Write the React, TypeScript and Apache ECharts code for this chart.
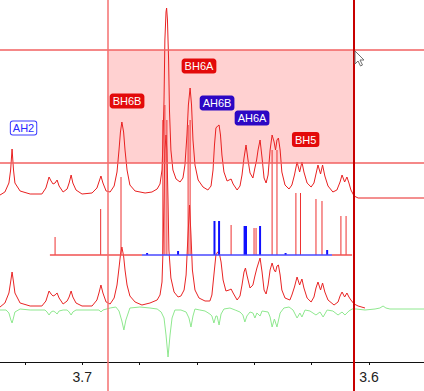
import React, { useEffect, useRef } from "react";
import * as echarts from "echarts";

// chemical shift axis (ppm), labelled ticks
const labelledTicks = [3.7, 3.6];

// upper trace: experimental spectrum [ppm, intensity]
const upperSpectrum: [number, number][] = [
  [3.7287, 167], [3.7270, 170], [3.7256, 179], [3.7250, 192], [3.7245, 213], [3.7240, 192], [3.7235, 179],
  [3.7217, 171], [3.7182, 168], [3.7141, 168], [3.7127, 174], [3.7116, 185], [3.7109, 181], [3.7102, 178],
  [3.7095, 179], [3.7088, 182], [3.7081, 176], [3.7067, 170], [3.7053, 173], [3.7046, 179], [3.7039, 187],
  [3.7033, 179], [3.7022, 172], [3.7001, 168], [3.6966, 169], [3.6949, 174], [3.6942, 180], [3.6935, 186],
  [3.6928, 179], [3.6917, 171], [3.6903, 170], [3.6889, 176], [3.6879, 190], [3.6872, 212], [3.6867, 230],
  [3.6862, 240], [3.6856, 230], [3.6851, 212], [3.6844, 192], [3.6834, 177], [3.6816, 171], [3.6781, 169],
  [3.6757, 170], [3.6739, 173], [3.6729, 178], [3.6722, 192], [3.6719, 217], [3.6715, 262], [3.6712, 322],
  [3.6708, 350], [3.6706, 354], [3.6703, 342], [3.6699, 302], [3.6696, 252], [3.6691, 212], [3.6684, 192],
  [3.6673, 183], [3.6659, 180], [3.6649, 184], [3.6642, 197], [3.6635, 227], [3.6630, 257], [3.6624, 274],
  [3.6619, 257], [3.6614, 222], [3.6607, 197], [3.6596, 182], [3.6579, 175], [3.6562, 172], [3.6551, 176],
  [3.6544, 192], [3.6539, 217], [3.6534, 234], [3.6528, 236], [3.6523, 237], [3.6518, 227], [3.6513, 207],
  [3.6506, 190], [3.6495, 181], [3.6488, 182], [3.6481, 183], [3.6474, 178], [3.6460, 172], [3.6450, 176],
  [3.6443, 187], [3.6436, 204], [3.6429, 217], [3.6422, 202], [3.6415, 189], [3.6405, 184], [3.6398, 194],
  [3.6392, 202], [3.6387, 212], [3.6380, 222], [3.6373, 204], [3.6366, 184], [3.6359, 179], [3.6352, 187],
  [3.6345, 212], [3.6338, 227], [3.6331, 220], [3.6326, 212], [3.6321, 222], [3.6316, 224], [3.6310, 212],
  [3.6304, 190], [3.6293, 177], [3.6279, 173], [3.6269, 177], [3.6260, 187], [3.6251, 200], [3.6242, 190],
  [3.6234, 200], [3.6227, 190], [3.6216, 179], [3.6202, 175], [3.6192, 179], [3.6185, 188], [3.6178, 197],
  [3.6169, 188], [3.6162, 197], [3.6154, 186], [3.6143, 176], [3.6126, 170], [3.6112, 172], [3.6101, 180],
  [3.6094, 187], [3.6085, 180], [3.6077, 185], [3.6070, 179], [3.6063, 172], [3.6052, 166], [3.6038, 164],
  [3.5808, 164],
];

// lower trace: simulated spectrum [ppm, intensity]
const lowerSpectrum: [number, number][] = [
  [3.7287, 55], [3.7270, 59], [3.7256, 69], [3.7250, 80], [3.7245, 90], [3.7240, 80], [3.7235, 69],
  [3.7217, 59], [3.7182, 56], [3.7141, 56], [3.7127, 61], [3.7116, 71], [3.7109, 68], [3.7102, 66],
  [3.7095, 67], [3.7088, 69], [3.7081, 64], [3.7067, 58], [3.7053, 61], [3.7046, 65], [3.7039, 71],
  [3.7033, 65], [3.7022, 59], [3.7001, 56], [3.6966, 56], [3.6949, 62], [3.6942, 69], [3.6935, 77],
  [3.6928, 69], [3.6917, 60], [3.6903, 58], [3.6889, 64], [3.6879, 77], [3.6872, 94], [3.6867, 107],
  [3.6862, 115], [3.6856, 106], [3.6851, 92], [3.6844, 77], [3.6834, 66], [3.6816, 60], [3.6792, 57],
  [3.6764, 59], [3.6739, 62], [3.6729, 67], [3.6722, 80], [3.6719, 107], [3.6715, 162], [3.6712, 212],
  [3.6708, 227], [3.6705, 212], [3.6701, 162], [3.6698, 112], [3.6691, 84], [3.6680, 70], [3.6666, 65],
  [3.6656, 66], [3.6645, 72], [3.6638, 87], [3.6633, 117], [3.6626, 157], [3.6621, 127], [3.6616, 92],
  [3.6607, 72], [3.6593, 64], [3.6572, 61], [3.6555, 61], [3.6548, 67], [3.6541, 87], [3.6534, 107],
  [3.6528, 110], [3.6523, 110], [3.6516, 100], [3.6509, 82], [3.6499, 71], [3.6488, 72], [3.6481, 73],
  [3.6474, 69], [3.6460, 62], [3.6450, 66], [3.6443, 77], [3.6436, 90], [3.6431, 94], [3.6426, 87],
  [3.6415, 74], [3.6405, 77], [3.6398, 86], [3.6391, 94], [3.6380, 104], [3.6373, 90], [3.6366, 72],
  [3.6359, 68], [3.6352, 77], [3.6345, 92], [3.6338, 99], [3.6331, 92], [3.6326, 90], [3.6321, 96],
  [3.6316, 97], [3.6310, 87], [3.6304, 72], [3.6293, 64], [3.6276, 62], [3.6269, 67], [3.6260, 75],
  [3.6251, 85], [3.6242, 77], [3.6234, 83], [3.6227, 74], [3.6216, 64], [3.6202, 60], [3.6192, 65],
  [3.6185, 74], [3.6178, 80], [3.6169, 72], [3.6162, 79], [3.6154, 70], [3.6143, 62], [3.6122, 57],
  [3.6108, 60], [3.6101, 66], [3.6094, 70], [3.6085, 65], [3.6077, 69], [3.6070, 65], [3.6063, 62],
  [3.6052, 58], [3.6038, 56], [3.6014, 54],
];

// difference trace [ppm, intensity]
const residualSpectrum: [number, number][] = [
  [3.7287, 52], [3.7266, 52], [3.7256, 49], [3.7249, 42], [3.7245, 39], [3.7242, 42], [3.7235, 50],
  [3.7217, 53], [3.7182, 52], [3.7130, 52], [3.7123, 50], [3.7116, 47], [3.7109, 50], [3.7102, 51],
  [3.7095, 50], [3.7088, 48], [3.7081, 51], [3.7067, 52], [3.7053, 52], [3.7046, 50], [3.7039, 47],
  [3.7033, 50], [3.7022, 52], [3.6973, 52], [3.6942, 52], [3.6935, 50], [3.6928, 52], [3.6903, 54],
  [3.6883, 55], [3.6872, 51], [3.6862, 41], [3.6855, 32], [3.6848, 42], [3.6834, 54], [3.6799, 55],
  [3.6764, 54], [3.6739, 53], [3.6725, 50], [3.6715, 44], [3.6708, 27], [3.6701, 5], [3.6694, 27],
  [3.6687, 44], [3.6677, 52], [3.6656, 52], [3.6638, 50], [3.6628, 44], [3.6621, 35], [3.6614, 46],
  [3.6607, 53], [3.6590, 52], [3.6572, 51], [3.6555, 48], [3.6548, 46], [3.6541, 39], [3.6534, 46],
  [3.6530, 46], [3.6523, 37], [3.6516, 48], [3.6506, 53], [3.6485, 54], [3.6467, 52], [3.6450, 50],
  [3.6440, 47], [3.6433, 40], [3.6426, 46], [3.6415, 50], [3.6405, 49], [3.6398, 44], [3.6391, 49],
  [3.6380, 46], [3.6373, 51], [3.6352, 50], [3.6345, 45], [3.6338, 35], [3.6330, 43], [3.6321, 35],
  [3.6310, 49], [3.6297, 54], [3.6279, 55], [3.6265, 52], [3.6251, 44], [3.6241, 49], [3.6234, 45],
  [3.6223, 52], [3.6206, 51], [3.6185, 47], [3.6171, 50], [3.6160, 45], [3.6146, 52], [3.6126, 51],
  [3.6108, 47], [3.6094, 50], [3.6084, 47], [3.6070, 51], [3.6059, 53], [3.6045, 53], [3.6014, 52],
  [3.5979, 53], [3.5962, 54], [3.5951, 56], [3.5941, 54], [3.5927, 53], [3.5808, 53],
];

// stick spectrum
const stickBase = 107;
const redStickPpm = [3.7095, 3.6936, 3.6865, 3.6719, 3.6712, 3.6705, 3.6631, 3.6624, 3.6481, 3.6401, 3.6394,
  3.6338, 3.6321, 3.6255, 3.6239, 3.6185, 3.6164, 3.6098, 3.6080];
const redStickHeight = [125, 153, 185, 242, 257, 242, 237, 242, 137, 134, 134, 212, 212, 169, 169, 163, 161, 146, 146];
const blueStickPpm = [3.6774, 3.6666, 3.6539, 3.6523, 3.6434, 3.6429, 3.6380, 3.6291, 3.6146];
const blueStickHeight = [109, 111, 141, 141, 136, 136, 136, 109, 112];
const redBaseLeft = [3.7113, 3.6792];
const blueBase = [3.6792, 3.6129];
const redBaseRight = [3.6129, 3.6059];

// selection cursors and region
const cursorPpm = [3.6913, 3.6052];
const cursorLevel = [199, 312];

// assignment labels
const labelNames = ["AH2", "BH6B", "BH6A", "AH6B", "AH6A", "BH5"];
const labelPpm = [3.7205, 3.6844, 3.6593, 3.6530, 3.6408, 3.6221];
const labelHeight = [234, 261, 296, 259, 244, 222.5];
const labelKind = ["free", "B", "B", "A", "A", "B"];

const kindStyle: Record<string, { bg: string; fg: string; border: string }> = {
  free: { bg: "#ffffff", fg: "#2a2aff", border: "#3a3aff" },
  A: { bg: "#2c08c4", fg: "#ffffff", border: "#2c08c4" },
  B: { bg: "#e30a0a", fg: "#ffffff", border: "#e30a0a" },
};

const vCursorStyles = [
  { color: "#f47070", width: 1.5, type: "solid" },
  { color: "#c80000", width: 2, type: "solid" },
];

function stickSeries(ppm: number[], height: number[], color: string, width: number) {
  return {
    type: "custom",
    z: 4,
    silent: true,
    data: ppm.map((p, i) => [p, height[i]]),
    encode: { x: 0, y: 1 },
    renderItem: (_params: any, api: any) => {
      const x = api.value(0);
      const h = api.value(1);
      const a = api.coord([x, stickBase]);
      const b = api.coord([x, h]);
      return {
        type: "line",
        shape: { x1: a[0], y1: a[1], x2: b[0], y2: b[1] },
        style: { stroke: color, lineWidth: width },
      };
    },
  };
}

function baseSeries(range: number[], color: string) {
  return {
    type: "line",
    z: 4,
    silent: true,
    symbol: "none",
    data: [[range[0], stickBase], [range[1], stickBase]],
    lineStyle: { color, width: 1.5 },
  };
}

export default function App() {
  const ref = useRef<HTMLDivElement>(null);
  useEffect(() => {
    document.body.style.margin = "0";
    const chart = echarts.init(ref.current!, undefined, { renderer: "svg" });
    const xCommon = {
      type: "value",
      inverse: true,
      min: 3.58,
      max: 3.74,
      interval: 0.02,
      splitLine: { show: false },
    };
    const option: any = {
      animation: false,
      backgroundColor: "#ffffff",
      grid: [
        { left: -32.37, width: 458.72, top: 0, height: 362, containLabel: false, outerBoundsMode: "none" },
        { left: -32.37, width: 458.72, top: 362, height: 29, containLabel: false, outerBoundsMode: "none" },
      ],
      xAxis: [
        {
          ...xCommon,
          gridIndex: 0,
          axisLine: { show: true, lineStyle: { color: "#111", width: 1 } },
          axisTick: { show: true, length: 3, lineStyle: { color: "#111" } },
          axisLabel: {
            margin: 8,
            fontSize: 14,
            fontFamily: "Liberation Sans",
            color: "#222",
            formatter: (v: number) => {
              const hit = labelledTicks.find((t) => Math.abs(t - v) < 1e-6);
              return hit !== undefined ? hit.toFixed(1) : "";
            },
          },
        },
        { ...xCommon, gridIndex: 1, show: false },
      ],
      yAxis: [
        { type: "value", min: 0, max: 362, show: false, gridIndex: 0 },
        { type: "value", min: 0, max: 1, show: false, gridIndex: 1 },
      ],
      graphic: [
        {
          type: "polygon",
          z: 100,
          shape: { points: [[355, 51], [355, 64], [358, 61], [360.5, 66], [362.5, 65], [360, 60], [364, 60]] },
          style: { fill: "#ffffff", stroke: "#707070", lineWidth: 1 },
        },
      ],
      series: [
        {
          type: "line",
          z: 1,
          data: [],
          silent: true,
          markArea: {
            silent: true,
            itemStyle: { color: "rgba(255,40,40,0.21)" },
            data: [[{ xAxis: cursorPpm[0], yAxis: cursorLevel[0] }, { xAxis: cursorPpm[1], yAxis: cursorLevel[1] }]],
          },
        },
        {
          type: "line",
          name: "residual",
          z: 3,
          symbol: "none",
          silent: true,
          data: residualSpectrum,
          lineStyle: { color: "#8fe88f", width: 1 },
        },
        {
          type: "line",
          name: "lower",
          z: 3,
          symbol: "none",
          silent: true,
          data: lowerSpectrum,
          lineStyle: { color: "#e82424", width: 1 },
        },
        {
          type: "line",
          name: "upper",
          z: 3,
          symbol: "none",
          silent: true,
          data: upperSpectrum,
          lineStyle: { color: "#e82020", width: 1 },
        },
        baseSeries(redBaseLeft, "#f05050"),
        baseSeries(blueBase, "#4848ff"),
        baseSeries(redBaseRight, "#f05050"),
        stickSeries(redStickPpm, redStickHeight, "#ee3030", 1),
        stickSeries(blueStickPpm, blueStickHeight, "#1010ff", 2),
        {
          type: "line",
          z: 6,
          data: [],
          silent: true,
          markLine: {
            silent: true,
            symbol: "none",
            precision: 4,
            label: { show: false },
            data: [
              { yAxis: cursorLevel[0], lineStyle: { color: "#f26060", width: 1.5, type: "solid" } },
              { yAxis: cursorLevel[1], lineStyle: { color: "#f26060", width: 1.5, type: "solid" } },
              { xAxis: cursorPpm[0], lineStyle: vCursorStyles[0] },
              { xAxis: cursorPpm[1], lineStyle: vCursorStyles[1] },
            ],
          },
        },
        {
          type: "line",
          z: 6,
          xAxisIndex: 1,
          yAxisIndex: 1,
          data: [],
          silent: true,
          markLine: {
            silent: true,
            symbol: "none",
            precision: 4,
            label: { show: false },
            data: [
              { xAxis: cursorPpm[0], lineStyle: vCursorStyles[0] },
              { xAxis: cursorPpm[1], lineStyle: vCursorStyles[1] },
            ],
          },
        },
        {
          type: "custom",
          z: 10,
          silent: true,
          data: labelNames.map((n, i) => [labelPpm[i], labelHeight[i], i]),
          encode: { x: 0, y: 1 },
          renderItem: (_params: any, api: any) => {
            const i = api.value(2);
            const p = api.coord([api.value(0), api.value(1)]);
            const s = kindStyle[labelKind[i]];
            return {
              type: "text",
              x: p[0],
              y: p[1],
              style: {
                text: labelNames[i],
                fill: s.fg,
                font: '11px "Liberation Sans"',
                align: "center",
                verticalAlign: "middle",
                backgroundColor: s.bg,
                borderColor: s.border,
                borderWidth: 1,
                borderRadius: 2,
                padding: [1, 2, 1, 2],
              },
            };
          },
        },
      ],
    };
    chart.setOption(option);
    return () => chart.dispose();
  }, []);
  return (
    <div
      ref={ref}
      style={{ position: "fixed", left: 0, top: 0, width: 424, height: 391, overflow: "hidden" }}
    />
  );
}
